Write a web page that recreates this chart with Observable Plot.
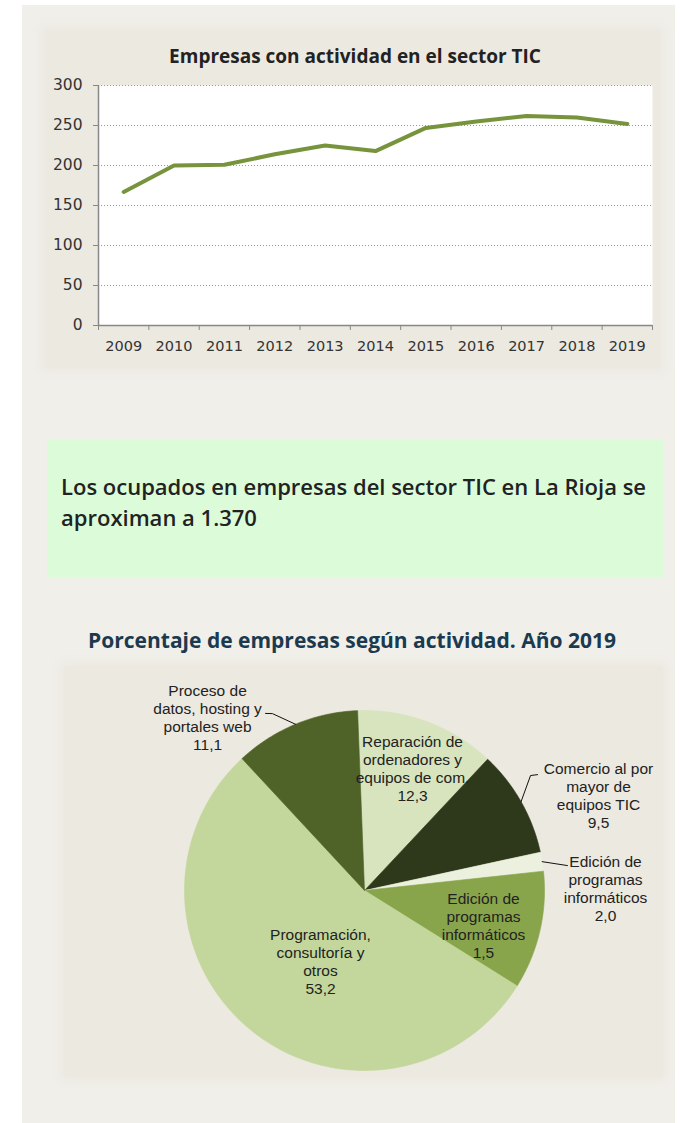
<!DOCTYPE html>
<html><head><meta charset="utf-8">
<script src="https://cdn.jsdelivr.net/npm/d3@7"></script>
<script src="https://cdn.jsdelivr.net/npm/@observablehq/plot@0.6"></script>
<style>
body{margin:0;background:#fff;width:681px;height:1123px;position:relative;overflow:hidden;font-family:"Open Sans",sans-serif}
#outer{position:absolute;left:22px;top:5px;width:653px;height:1118px;background:#f0efea}
.panel{position:absolute;background:#ece9e0;box-shadow:0 0 10px 4px #ece9e0}
#p1{left:45px;top:30px;width:615px;height:338px}
#p2{left:64px;top:666px;width:599px;height:411px}
#t1{position:absolute;left:45px;top:43px;width:620px;text-align:center;font-weight:700;font-size:19px;color:#222;line-height:26px}
#c1{position:absolute;left:45px;top:75px}
#box{position:absolute;left:47px;top:440px;width:616px;height:137px;background:#dcfcd9}
#boxt{position:absolute;left:14px;top:31px;width:600px;font-weight:600;font-size:22px;line-height:31px;color:#222}
#t2{position:absolute;left:22px;top:625px;width:660px;text-align:center;font-weight:700;font-size:21px;color:#1b3a4f;line-height:30px}
#c2{position:absolute;left:62px;top:660px}
</style></head>
<body>
<div id="outer"></div>
<div class="panel" id="p1"></div>
<div class="panel" id="p2"></div>
<div id="t1">Empresas con actividad en el sector TIC</div>
<div id="c1"></div>
<div id="box"><div id="boxt">Los ocupados en empresas del sector TIC en La Rioja se aproximan a 1.370</div></div>
<div id="t2">Porcentaje de empresas según actividad. Año 2019</div>
<div id="c2"></div>
<script>
// ---- Line chart data ----
const years = [2009, 2010, 2011, 2012, 2013, 2014, 2015, 2016, 2017, 2018, 2019];
const empresas = [167, 200, 201, 214, 225, 218, 247, 255, 262, 260, 252];
const yTicks = [0, 50, 100, 150, 200, 250, 300];

// ---- Pie data (clockwise from top) ----
const activityLabels = [
  "Reparación de\nordenadores y\nequipos de com.",
  "Comercio al por\nmayor de\nequipos TIC",
  "Edición de\nprogramas\ninformáticos",
  "Edición de\nprogramas\ninformáticos",
  "Programación,\nconsultoría y\notros",
  "Proceso de\ndatos, hosting y\nportales web"
];
const labelValues = ["12,3", "9,5", "2,0", "1,5", "53,2", "11,1"];
// slice sizes as drawn in the picture (%)
const sliceShares = [12.6, 9.6, 1.7, 10.6, 54.2, 11.3];
const sliceColors = ["#d7e4bd", "#2e381a", "#ebf1de", "#89a54c", "#c3d69b", "#4f6228"];

// ---- Line chart ----
const lineData = years.map((y, i) => ({year: y, value: empresas[i]}));
const bounds = years.map(y => y - 0.5).concat([years[years.length - 1] + 0.5]);
const axisFont = "DejaVu Sans, Verdana, sans-serif";
const chart1 = Plot.plot({
  width: 615, height: 293,
  marginLeft: 53, marginRight: 8, marginTop: 10, marginBottom: 43,
  style: {background: "transparent", fontFamily: axisFont, overflow: "visible"},
  x: {domain: [bounds[0], bounds[bounds.length - 1]]},
  y: {domain: [0, 300]},
  marks: [
    Plot.frame({fill: "white", stroke: "none"}),
    Plot.gridY({ticks: yTicks.filter(d => d > 0), stroke: "#999", strokeOpacity: 1, strokeDasharray: "1,2"}),
    Plot.ruleX([bounds[0]], {stroke: "#888", strokeWidth: 1.5}),
    Plot.ruleY([0], {stroke: "#888", strokeWidth: 1.5}),
    Plot.axisY({ticks: yTicks, tickSize: 5, tickPadding: 11, stroke: "#888", fill: "#333", fontSize: 15.5, fontFamily: axisFont, label: null, tickFormat: d => String(d)}),
    Plot.axisX({ticks: bounds, tickSize: 5, stroke: "#888", tickFormat: () => "", label: null}),
    Plot.axisX({ticks: years, tickSize: 0, tickPadding: 15, fill: "#333", fontSize: 14.5, fontFamily: axisFont, label: null, tickFormat: d => String(d)}),
    Plot.line(lineData, {x: "year", y: "value", stroke: "#77933c", strokeWidth: 4, strokeLinecap: "round", strokeLinejoin: "round"})
  ]
});
document.getElementById("c1").appendChild(chart1);

// ---- Pie chart ----
const startAngle = -2.2; // degrees clockwise from north
const polar = (deg, r) => ({x: r * Math.sin(deg * Math.PI / 180), y: r * Math.cos(deg * Math.PI / 180)});
const total = d3.sum(sliceShares);
let acc = startAngle;
const slices = sliceShares.map((v, i) => {
  const a0 = acc, a1 = acc + v / total * 360;
  acc = a1;
  return {i, a0, a1, mid: (a0 + a1) / 2, color: sliceColors[i]};
});
const polyPts = [];
slices.forEach(s => {
  polyPts.push({k: s.i, color: s.color, ...polar(0, 0)});
  const n = Math.max(2, Math.ceil(s.a1 - s.a0));
  for (let j = 0; j <= n; j++) polyPts.push({k: s.i, color: s.color, ...polar(s.a0 + (s.a1 - s.a0) * j / n, 1)});
  polyPts.push({k: s.i, color: s.color, ...polar(0, 0)});
});
// label placement (angle deg, radius factor) — layout, not data
const labelPlace = [[21.5, 0.728], [67.9, 1.403], [89.4, 1.339], [106.4, 0.689], [211.8, 0.464], [317.8, 1.298]];
const labels = slices.map(s => ({text: activityLabels[s.i] + "\n" + labelValues[s.i], ...polar(labelPlace[s.i][0], labelPlace[s.i][1])}));
// leader lines for outside labels: from slice mid on the arc to the label
const leaderPlace = {1: [[55.3, 1.122], [56.2, 1.157]], 2: [[83.0, 1.136]], 5: [[332.5, 1.108], [330.8, 1.127]]};
const leaderPts = [];
Object.entries(leaderPlace).forEach(([k, pts]) => {
  const s = slices[+k];
  leaderPts.push({k: +k, ...polar(s.mid, 1.0)});
  pts.forEach(p => leaderPts.push({k: +k, ...polar(p[0], p[1])}));
});

const R = 180, W = 603, H = 418, cx = 302, cy = 230;
const chart2 = Plot.plot({
  width: W, height: H, margin: 0,
  style: {background: "transparent", overflow: "visible"},
  x: {domain: [-cx / R, (W - cx) / R], axis: null},
  y: {domain: [-(H - cy) / R, cy / R], axis: null},
  marks: [
    Plot.line(polyPts, {x: "x", y: "y", z: "k", fill: "color", stroke: "color", strokeWidth: 0.6, curve: "linear"}),
    Plot.line(leaderPts, {x: "x", y: "y", z: "k", stroke: "#111", strokeWidth: 1}),
    Plot.text(labels, {x: "x", y: "y", text: "text", fontFamily: "Liberation Sans, Arial", fontSize: 15.5, fill: "#222", lineHeight: 18 / 15.5, textAnchor: "middle", lineAnchor: "middle"})
  ]
});
document.getElementById("c2").appendChild(chart2);
</script>
</body></html>
